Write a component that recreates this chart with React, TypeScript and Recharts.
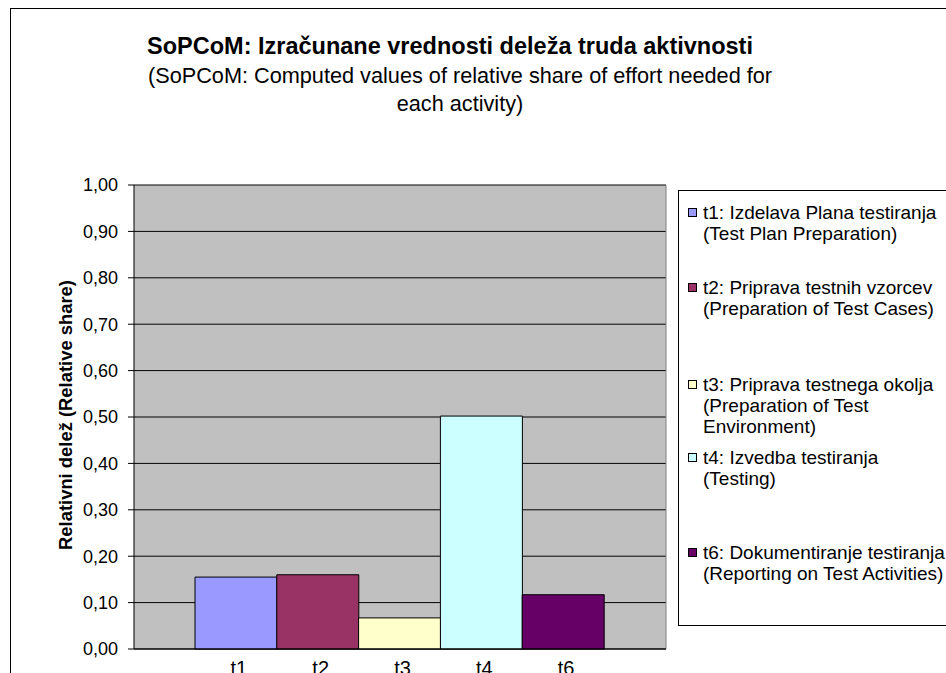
import { Bar, BarChart, CartesianGrid, Cell, XAxis, YAxis } from 'recharts';

const activities = ['t1', 't2', 't3', 't4', 't6'];
const shares = [0.155, 0.16, 0.067, 0.502, 0.117];
const barColors = ['#9999FF', '#993366', '#FFFFCC', '#CCFFFF', '#660066'];
const legendLabels = [
  ['t1: Izdelava Plana testiranja', '(Test Plan Preparation)'],
  ['t2: Priprava testnih vzorcev', '(Preparation of Test Cases)'],
  ['t3: Priprava testnega okolja', '(Preparation of Test', 'Environment)'],
  ['t4: Izvedba testiranja', '(Testing)'],
  ['t6: Dokumentiranje testiranja', '(Reporting on Test Activities)'],
];
const yTicks = [0, 0.1, 0.2, 0.3, 0.4, 0.5, 0.6, 0.7, 0.8, 0.9, 1];

const title = 'SoPCoM: Izračunane vrednosti deleža truda aktivnosti';
const subtitle = ['(SoPCoM: Computed values of relative share of effort needed for', 'each activity)'];
const yTitle = 'Relativni delež (Relative share)';

const data = activities.map((name, i) => ({ name, share: shares[i] }));

const font = '"Liberation Sans", Arial, sans-serif';

// legend rows are not evenly spaced in the original
const legendTops = [11, 86, 183, 256, 351];

function YTitle(props: any) {
  const { viewBox } = props;
  const cx = viewBox.x + 65;
  const cy = viewBox.y + viewBox.height / 2 - 2;
  return (
    <text
      x={cx}
      y={cy}
      transform={`rotate(-90, ${cx}, ${cy})`}
      textAnchor="middle"
      dominantBaseline="central"
      fontFamily={font}
      fontSize={18.4}
      fontWeight="bold"
      fill="#000"
    >
      {yTitle}
    </text>
  );
}

export default function App() {
  return (
    <div
      style={{
        position: 'absolute',
        left: 0,
        top: 0,
        width: 946,
        height: 673,
        overflow: 'hidden',
        background: '#fff',
        fontFamily: font,
      }}
    >
      <div
        style={{
          position: 'absolute',
          left: 10,
          top: 8,
          width: 1000,
          height: 700,
          border: '1px solid #000',
        }}
      />

      <div
        style={{
          position: 'absolute',
          left: 0,
          width: 900,
          top: 31,
          textAlign: 'center',
          color: '#000',
          fontSize: 23.5,
          fontWeight: 'bold',
          lineHeight: '30px',
        }}
      >
        {title}
      </div>
      <div
        style={{
          position: 'absolute',
          left: 0,
          width: 920,
          top: 62,
          textAlign: 'center',
          color: '#000',
          fontSize: 21.7,
          lineHeight: '28px',
        }}
      >
        {subtitle.map((s) => (
          <div key={s}>{s}</div>
        ))}
      </div>

      <div style={{ position: 'absolute', left: 0, top: 0 }}>
        <BarChart
          width={946}
          height={700}
          data={data}
          barCategoryGap={0}
          margin={{ top: 185, right: 280, bottom: 21, left: 0 }}
        >
          <CartesianGrid vertical={false} stroke="#000" fill="#C0C0C0" fillOpacity={1} />
          <CartesianGrid
            horizontal={false}
            stroke="#808080"
            verticalCoordinatesGenerator={({ offset }: any) => [offset.left + offset.width]}
          />
          <XAxis
            dataKey="name"
            padding={{ left: 61, right: 62 }}
            tickLine={false}
            axisLine={{ stroke: '#000' }}
            tick={{ fill: '#000', fontSize: 20, fontFamily: font, dx: 3 }}
            tickMargin={6}
            height={30}
            interval={0}
          />
          <YAxis
            domain={[0, 1]}
            ticks={yTicks}
            interval={0}
            width={134}
            tickSize={6}
            tickMargin={10}
            axisLine={{ stroke: '#000' }}
            tickLine={{ stroke: '#000' }}
            tick={{ fill: '#000', fontSize: 18, fontFamily: font }}
            tickFormatter={(v: number) => v.toFixed(2).replace('.', ',')}
            label={YTitle}
          />
          <Bar dataKey="share" stroke="#000" strokeWidth={1} isAnimationActive={false}>
            {data.map((d, i) => (
              <Cell key={d.name} fill={barColors[i]} />
            ))}
          </Bar>
        </BarChart>
      </div>

      <div
        style={{
          position: 'absolute',
          left: 678,
          top: 190,
          width: 400,
          height: 436,
          border: '1px solid #000',
          background: '#fff',
          boxSizing: 'border-box',
        }}
      >
        {legendLabels.map((lines, i) => (
          <div
            key={activities[i]}
            style={{ position: 'absolute', left: 9, top: legendTops[i], fontSize: 19, lineHeight: '21px', color: '#000' }}
          >
            {lines.map((line, j) => (
              <div key={j} style={{ display: 'flex', alignItems: 'center', whiteSpace: 'nowrap' }}>
                <span
                  style={{
                    display: 'inline-block',
                    width: 9,
                    height: 9,
                    marginRight: 6,
                    boxSizing: 'border-box',
                    border: '1px solid #000',
                    background: j === 0 ? barColors[i] : 'transparent',
                    borderColor: j === 0 ? '#000' : 'transparent',
                  }}
                />
                {line}
              </div>
            ))}
          </div>
        ))}
      </div>
    </div>
  );
}
